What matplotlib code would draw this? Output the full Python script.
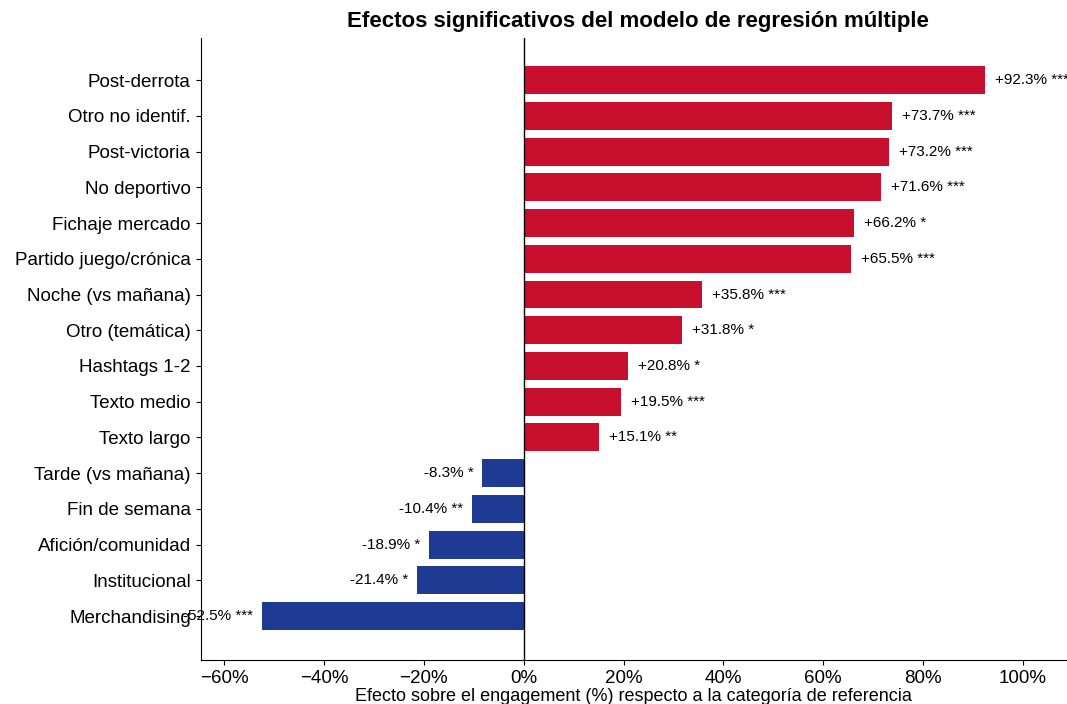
import matplotlib.pyplot as plt

plt.rcParams['font.family'] = ['Liberation Sans', 'DejaVu Sans']
plt.rcParams['axes.unicode_minus'] = True

# Efectos del modelo (% sobre el engagement) y nivel de significación
categorias = ["Post-derrota", "Otro no identif.", "Post-victoria", "No deportivo",
              "Fichaje mercado", "Partido juego/crónica", "Noche (vs mañana)",
              "Otro (temática)", "Hashtags 1-2", "Texto medio", "Texto largo",
              "Tarde (vs mañana)", "Fin de semana", "Afición/comunidad",
              "Institucional", "Merchandising"]
efectos = [92.3, 73.7, 73.2, 71.6, 66.2, 65.5, 35.8, 31.8, 20.8, 19.5, 15.1,
           -8.3, -10.4, -18.9, -21.4, -52.5]
signif = ["***", "***", "***", "***", "*", "***", "***", "*", "*", "***", "**",
          "*", "**", "*", "*", "***"]
ticks_x = [-60, -40, -20, 0, 20, 40, 60, 80, 100]

ROJO = "#C8102E"
AZUL = "#1F3A93"

fig = plt.figure(figsize=(10.67, 7.04), dpi=100)
ax = fig.add_axes([0.188, 0.0625, 0.812, 0.8835])

pos = list(range(len(categorias)))
colores = [ROJO if v > 0 else AZUL for v in efectos]
ax.barh(pos, efectos, height=0.78, color=colores)

# etiquetas con el efecto y las estrellas de significación
for y, v, s in zip(pos, efectos, signif):
    if v > 0:
        ax.text(v + 2, y, f"+{v:.1f}% {s}", va="center", ha="left", fontsize=11)
    else:
        ax.text(v - 1.8, y, f"{v:.1f}% {s}", va="center", ha="right", fontsize=11)

ax.axvline(0, color="black", lw=1)
ax.set_yticks(pos)
ax.set_yticklabels(categorias, fontsize=13.5)
ax.set_ylim(len(categorias) - 1 + 1.23, -1.18)
ax.set_xlim(-64.7, 108.8)
ax.set_xticks(ticks_x)
ax.set_xticklabels([f"{t}%".replace("-", "\u2212") for t in ticks_x], fontsize=13.5)
ax.spines["top"].set_visible(False)
ax.spines["right"].set_visible(False)
ax.set_xlabel("Efecto sobre el engagement (%) respecto a la categoría de referencia",
              fontsize=13, labelpad=1)
fig.suptitle("Efectos significativos del modelo de regresión múltiple",
             fontsize=16, fontweight="bold", x=0.598, y=0.984)

fig.savefig("out.png", dpi=100)
